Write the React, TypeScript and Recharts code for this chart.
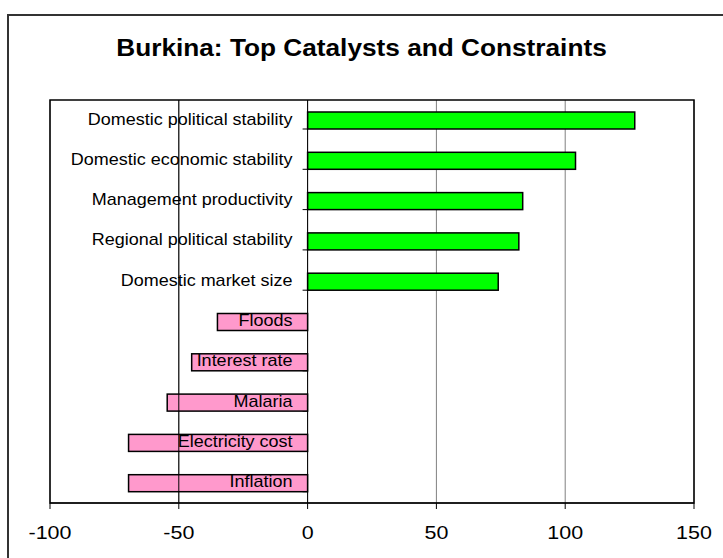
import React from "react";
import {
  BarChart,
  Bar,
  XAxis,
  YAxis,
  CartesianGrid,
  ReferenceLine,
  ReferenceArea,
  Cell,
} from "recharts";

// ---- data ----
const categories = [
  "Domestic political stability",
  "Domestic economic stability",
  "Management productivity",
  "Regional political stability",
  "Domestic market size",
  "Floods",
  "Interest rate",
  "Malaria",
  "Electricity cost",
  "Inflation",
];
const scores = [127, 104, 83.5, 82, 74, -35, -45, -54.5, -69.5, -69.5];
const xTicks = [-100, -50, 0, 50, 100, 150];
const xDomain = [-100, 150];

const data = categories.map((name, i) => ({ name, score: scores[i] }));

const FONT = '"Liberation Sans", Arial, sans-serif';
// the original's text is a little wider than plain Arial
const STRETCH = 1.13;

const XTick = (props: any) => {
  const { x, y, payload } = props;
  return (
    <g transform={`translate(${x},${y + 28}) scale(${STRETCH},1)`}>
      <text x={0} y={0} textAnchor="middle" fontSize={19} fontFamily={FONT} fill="#000">
        {payload.value}
      </text>
    </g>
  );
};

// small tick on the zero (category) line at the bottom of each band
const BandTick = (props: any) => {
  const { x, y, width, height } = props;
  if (width == null || height == null) return null;
  const zeroX = x + (width * (0 - xDomain[0])) / (xDomain[1] - xDomain[0]);
  const yb = y + height;
  return <line x1={zeroX - 5} x2={zeroX} y1={yb} y2={yb} stroke="#000" />;
};

// bar + category label sitting just left of the zero line
const BarWithLabel = (props: any) => {
  const { x, y, width, height, fill, payload } = props;
  const left = Math.min(x, x + width);
  const w = Math.abs(width);
  const zeroX = payload.score >= 0 ? left : left + w;
  const cy = y + height / 2;
  return (
    <g>
      <rect x={left} y={y} width={w} height={height} fill={fill} stroke="#000" strokeWidth={1.5} />
      <g transform={`translate(${zeroX - 15},${cy + 4}) scale(1.125,1)`}>
        <text x={0} y={0} textAnchor="end" fontSize={16} fontFamily={FONT} fill="#000">
          {payload.name}
        </text>
      </g>
    </g>
  );
};

export default function App() {
  return (
    <div
      style={{
        position: "absolute",
        left: 0,
        top: 0,
        width: 723,
        height: 558,
        overflow: "hidden",
        background: "#fff",
      }}
    >
      {/* chart area frame, runs off the right and bottom edges */}
      <div
        style={{
          position: "absolute",
          left: 7,
          top: 14,
          width: 800,
          height: 700,
          border: "2px solid #333",
        }}
      />
      <div
        style={{
          position: "absolute",
          left: 0,
          top: 37,
          width: 723,
          textAlign: "center",
          fontFamily: FONT,
          fontWeight: "bold",
          fontSize: 23,
          lineHeight: "23px",
          transform: `scaleX(1.14)`,
        }}
      >
        Burkina: Top Catalysts and Constraints
      </div>
      <div style={{ position: "absolute", left: 0, top: 0 }}>
        <BarChart
          width={723}
          height={558}
          data={data}
          layout="vertical"
          margin={{ top: 100, right: 29, bottom: 25, left: 50 }}
        >
          <CartesianGrid horizontal={false} stroke="#808080" />
          <XAxis
            type="number"
            domain={xDomain}
            ticks={xTicks}
            interval={0}
            allowDataOverflow
            height={30}
            tickSize={6}
            tickLine={{ stroke: "#000" }}
            axisLine={{ stroke: "#000" }}
            tick={<XTick />}
          />
          <YAxis
            type="category"
            dataKey="name"
            width={0}
            tick={false}
            tickLine={false}
            axisLine={false}
          />
          <ReferenceLine x={-50} stroke="#000" />
          <ReferenceLine x={0} stroke="#000" />
          <ReferenceArea
            x1={xDomain[0]}
            x2={xDomain[1]}
            fill="none"
            fillOpacity={0}
            stroke="#000"
            strokeWidth={1.5}
          />
          <Bar
            dataKey="score"
            barSize={17}
            background={<BandTick />}
            shape={<BarWithLabel />}
            isAnimationActive={false}
          >
            {data.map((d) => (
              <Cell key={d.name} fill={d.score >= 0 ? "#00FF00" : "#FF99CC"} />
            ))}
          </Bar>
        </BarChart>
      </div>
    </div>
  );
}
